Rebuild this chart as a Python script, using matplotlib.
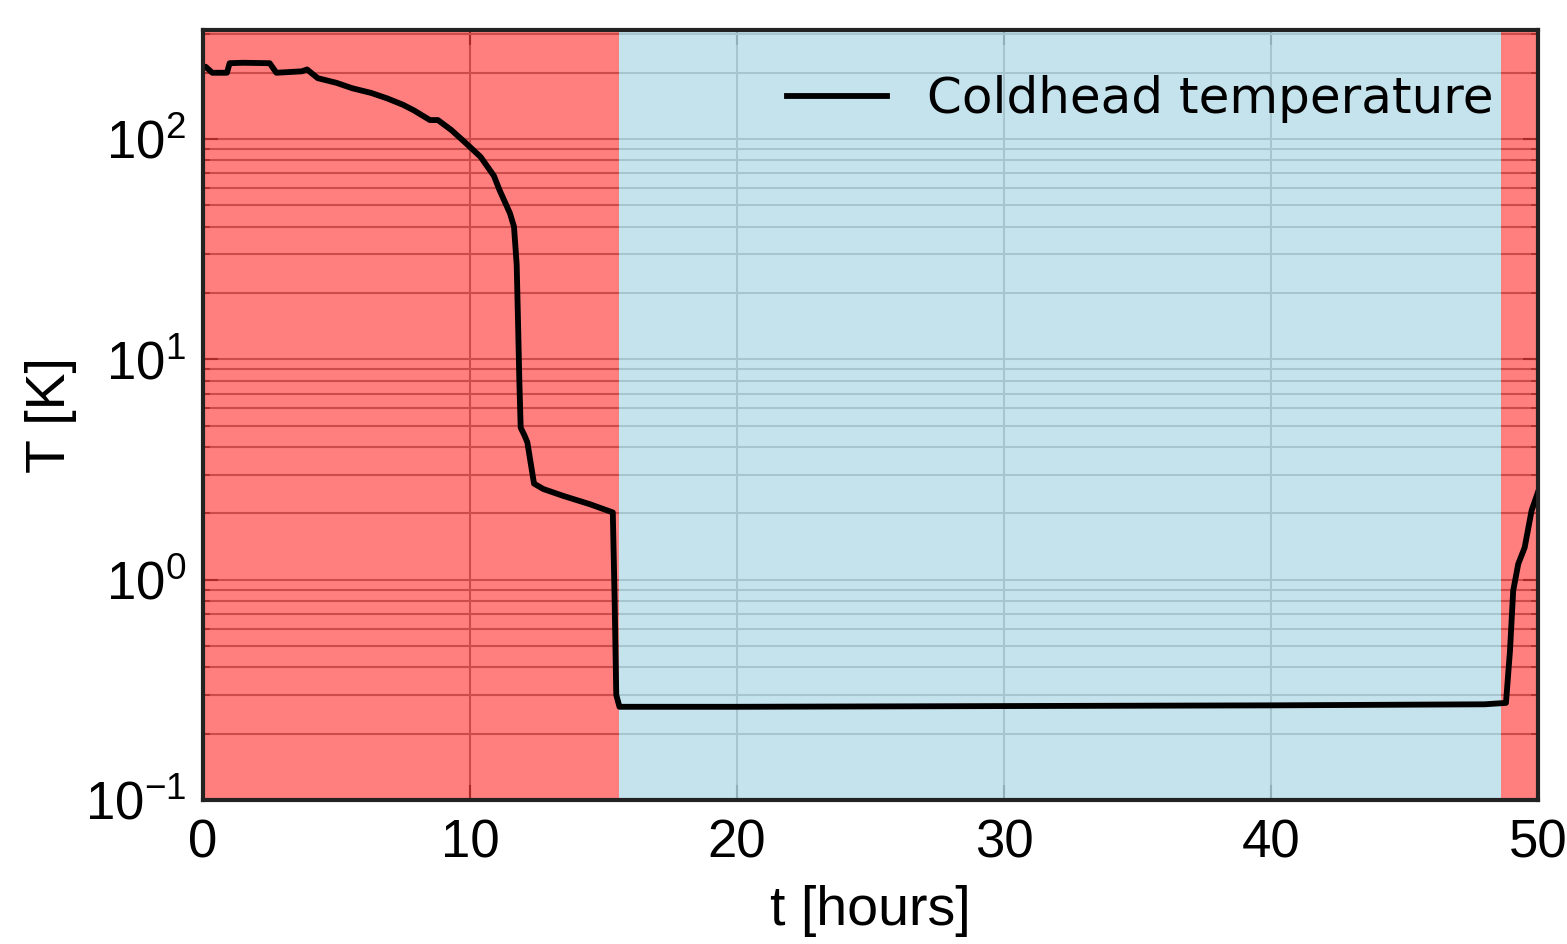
import matplotlib
matplotlib.use("Agg")
import matplotlib.pyplot as plt

# coldhead temperature
t_hours = [0.0, 0.1, 0.35, 0.9, 1.0, 1.5, 2.5, 2.75, 3.7, 3.9, 4.3, 5.0,
           5.6, 6.3, 6.9, 7.5, 7.9, 8.5, 8.8, 9.3, 9.8, 10.4, 10.9, 11.1,
           11.5, 11.65, 11.75, 11.8, 11.85, 11.9, 12.05, 12.15, 12.4, 12.75,
           13.5, 14.5, 15.35, 15.42, 15.48, 15.6, 20.0, 30.0, 40.0, 48.0,
           48.8, 48.95, 49.07, 49.26, 49.5, 49.76, 50.0]
temp_K = [210, 213, 200, 200, 221, 222, 221, 200, 203, 207, 189, 180,
          170, 162, 153, 143, 135, 122, 122, 110, 97, 83, 68, 59,
          46, 40, 27, 15, 8, 4.9, 4.5, 4.2, 2.73, 2.58,
          2.4, 2.2, 2.02, 0.8, 0.3, 0.265, 0.265, 0.267, 0.269, 0.272,
          0.276, 0.475, 0.89, 1.18, 1.40, 2.06, 2.5]

# phases: (start, end, colour, alpha)
phases = [(0.0, 15.6, "red", 0.5),
          (15.6, 48.6, "lightblue", 0.7),
          (48.6, 50.0, "red", 0.5)]


def main():
    plt.rcParams["font.family"] = ["Liberation Sans", "DejaVu Sans"]
    plt.rcParams["mathtext.default"] = "regular"
    plt.rcParams["axes.unicode_minus"] = False

    fig = plt.figure(figsize=(15.67, 9.44), dpi=100)
    ax = fig.add_axes([0.1295, 0.1525, 0.852, 0.8155])

    for start, end, colour, alpha in phases:
        ax.axvspan(start, end, color=colour, alpha=alpha, lw=0, zorder=3)

    ax.plot(t_hours, temp_K, color="black", lw=4.2, zorder=4,
            solid_joinstyle="round", label="Coldhead temperature")

    ax.set_yscale("log")
    ax.set_xlim(0, 50)
    ax.set_ylim(0.1, 312)

    ax.grid(True, which="major", axis="both", color="#999999", lw=1.5)
    ax.grid(True, which="minor", axis="y", color="#999999", lw=1.5)

    ax.tick_params(which="both", direction="in", top=True, right=True,
                   labelsize=38, color="#555555")
    ax.tick_params(which="major", length=11, width=1.5)
    ax.tick_params(which="minor", length=5, width=1.2)
    ax.tick_params(axis="x", pad=13)
    ax.tick_params(axis="y", pad=12)

    for spine in ax.spines.values():
        spine.set_color("#222222")
        spine.set_linewidth(3)
        spine.set_zorder(5)

    ax.set_xlabel("t [hours]", fontsize=40, labelpad=12)
    ax.set_ylabel("T [K]", fontsize=40, labelpad=6)

    ax.legend(loc="upper right", frameon=False,
              prop={"family": "DejaVu Sans", "size": 36},
              handlelength=2.0, handletextpad=0.8)

    fig.savefig("out.png", dpi=100)
    plt.close(fig)
    return 0


if __name__ == "__main__":
    exit(main())
